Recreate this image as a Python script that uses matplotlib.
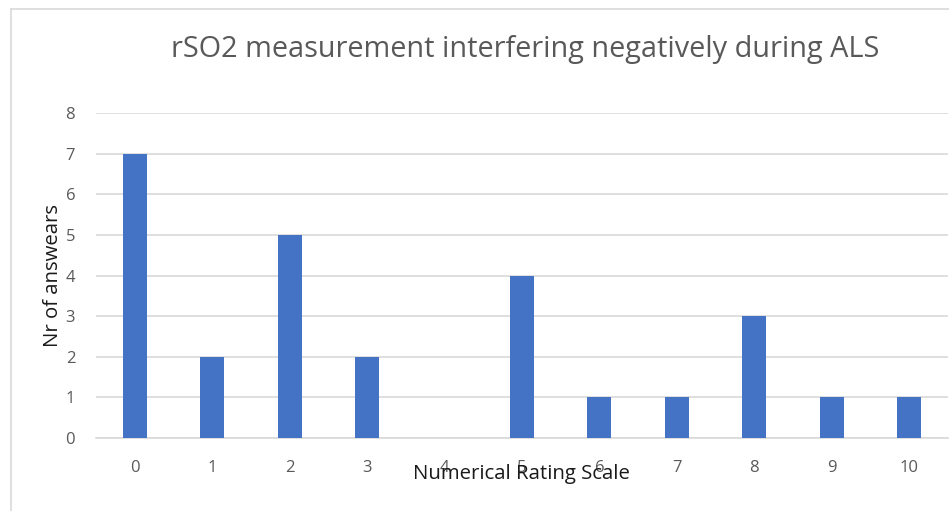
import matplotlib
matplotlib.use("Agg")
import matplotlib.pyplot as plt
from matplotlib.lines import Line2D

categories = ["0", "1", "2", "3", "4", "5", "6", "7", "8", "9", "10"]
answers = [7, 2, 5, 2, 0, 4, 1, 1, 3, 1, 1]
yticks = [0, 1, 2, 3, 4, 5, 6, 7, 8]
title = "rSO2 measurement interfering negatively during ALS"
xlabel = "Numerical Rating Scale"
ylabel = "Nr of answears"

plt.rcParams['font.family'] = ['Open Sans', 'DejaVu Sans']

fig = plt.figure(figsize=(9.49, 5.11), dpi=100)
ax = fig.add_axes([96/949, 73/511, (948-96)/949, (438-113)/511])

x = list(range(len(categories)))
ax.bar(x, answers, width=0.31, color="#4472C4", zorder=3)
ax.set_xlim(-0.5, len(categories) - 0.5)
ax.set_ylim(0, 8)
ax.set_yticks(yticks)
ax.set_xticks(x)
ax.set_xticklabels(categories)
ax.grid(axis="y", color="#d9d9d9", linewidth=1.2, zorder=0)
for s in ["top", "right", "left"]:
    ax.spines[s].set_visible(False)
ax.spines["bottom"].set_color("#d9d9d9")
ax.spines["bottom"].set_linewidth(1.2)
ax.tick_params(axis="both", length=0, labelsize=12, colors="#595959")
ax.tick_params(axis="y", pad=15)
ax.tick_params(axis="x", pad=16)

fig.text(525/949, 1 - 50/511, title, ha="center", va="center", fontsize=20.8, color="#595959")
fig.text(521/949, 1 - 474/511, xlabel, ha="center", va="center", fontsize=14.7, color="#1a1a1a")
fig.text(53/949, 1 - 275/511, ylabel, ha="center", va="center", fontsize=14.7, color="#1a1a1a", rotation=90)

# chart border (left and top)
fig.add_artist(Line2D([11/949, 11/949], [0, 1 - 9/511], transform=fig.transFigure, color="#d9d9d9", lw=1.2))
fig.add_artist(Line2D([11/949, 1], [1 - 9/511, 1 - 9/511], transform=fig.transFigure, color="#d9d9d9", lw=1.2))

fig.savefig("out.png", dpi=100)
